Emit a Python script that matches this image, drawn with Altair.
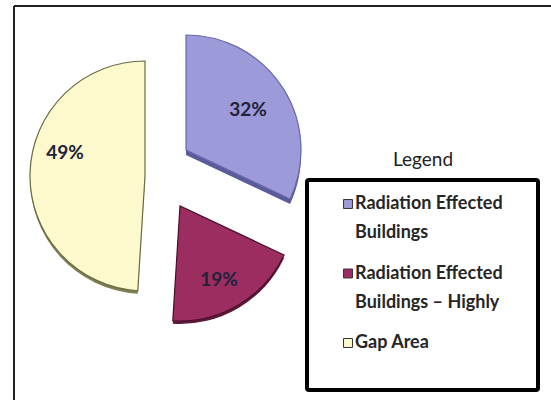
import math
import altair as alt
import pandas as pd

# ---- data ----
categories = ["Radiation Effected Buildings",
              "Radiation Effected Buildings – Highly",
              "Gap Area"]
values = [32, 19, 49]
labels = ["32%", "19%", "49%"]
legend_lines = ["Radiation Effected\nBuildings",
                "Radiation Effected\nBuildings – Highly",
                "Gap Area"]
colors = ["#9c9ad8", "#9b2d61", "#fcf9cd"]
depth_colors = ["#5b5a9c", "#5e1a3a", "#7d7d52"]
edge_colors = ["#6a68a8", "#4a0f2a", "#6b6b45"]

df = pd.DataFrame({
    "order": list(range(len(categories))),
    "category": categories,
    "value": values,
    "label": labels,
    "legend": legend_lines,
})

FONT = "Lato"
R = 115
centers = [(186, 150), (180, 206), (145, 176)]
depth = [5, 3, 3]
label_pos = [(248, 110), (219, 280), (65, 153)]

color_scale = alt.Scale(domain=categories, range=colors)
theta_scale = alt.Scale(domain=[0, 100], range=[0, 2 * math.pi])

base = (alt.Chart(df)
        .transform_window(cum_end="sum(value)", sort=[alt.SortField("order")],
                          frame=[None, 0])
        .transform_calculate(cum_start="datum.cum_end - datum.value"))

layers = []
# 3D depth
for i, (cx, cy) in enumerate(centers):
    layers.append(
        base.transform_filter(alt.datum.order == i)
        .mark_arc(outerRadius=R, fill=depth_colors[i])
        .encode(theta=alt.Theta("cum_start:Q", scale=theta_scale),
                theta2="cum_end:Q",
                x=alt.value(cx), y=alt.value(cy + depth[i]))
    )
# top faces
for i, (cx, cy) in enumerate(centers):
    layers.append(
        base.transform_filter(alt.datum.order == i)
        .mark_arc(outerRadius=R, stroke=edge_colors[i], strokeWidth=1.2)
        .encode(theta=alt.Theta("cum_start:Q", scale=theta_scale),
                theta2="cum_end:Q",
                color=alt.Color("category:N", scale=color_scale, legend=None),
                x=alt.value(cx), y=alt.value(cy))
    )
# slice labels
for i, (lx, ly) in enumerate(label_pos):
    layers.append(
        alt.Chart(df).transform_filter(alt.datum.order == i)
        .mark_text(font=FONT, fontSize=19, fontWeight="bold", color="#22223a",
                   align="center", baseline="middle")
        .encode(text="label:N", x=alt.value(lx), y=alt.value(ly))
    )

one = pd.DataFrame({"a": [0]})
# frame lines
frame_top = alt.Chart(one).mark_rule(color="#222", strokeWidth=2).encode(
    x=alt.value(14), x2=alt.value(551), y=alt.value(6))
frame_left = alt.Chart(one).mark_rule(color="#222", strokeWidth=2).encode(
    x=alt.value(14), y=alt.value(6), y2=alt.value(400))

# legend
legend_box = alt.Chart(one).mark_rect(
    fill="white", stroke="black", strokeWidth=4, cornerRadius=2).encode(
    x=alt.value(307), x2=alt.value(538), y=alt.value(180), y2=alt.value(390))
legend_title = alt.Chart(one).mark_text(
    font=FONT, fontSize=19, color="#222",
    align="center", baseline="middle").encode(
    text=alt.value("Legend"), x=alt.value(423), y=alt.value(160))

yscale = alt.Scale(domain=[0, 2], range=[0, 139])
legend_sq = alt.Chart(df).mark_square(
    size=80, stroke="#333", strokeWidth=1, opacity=1, yOffset=204).encode(
    x=alt.value(348),
    y=alt.Y("order:Q", scale=yscale, axis=None),
    color=alt.Color("category:N", scale=color_scale, legend=None))
legend_txt = alt.Chart(df).mark_text(
    font=FONT, fontSize=18, fontWeight="bold", color="#262626",
    align="left", baseline="alphabetic", lineBreak="\n", lineHeight=29,
    yOffset=209).encode(
    x=alt.value(355),
    y=alt.Y("order:Q", scale=yscale, axis=None),
    text="legend:N")

chart = alt.layer(
    frame_top, frame_left, *layers, legend_box, legend_title, legend_sq, legend_txt
).properties(
    width=551, height=400,
    autosize=alt.AutoSizeParams(type="none"),
    padding=0, background="white"
).configure_view(stroke=None)

chart.save("out.html", embed_options={"renderer": "svg", "actions": False})
